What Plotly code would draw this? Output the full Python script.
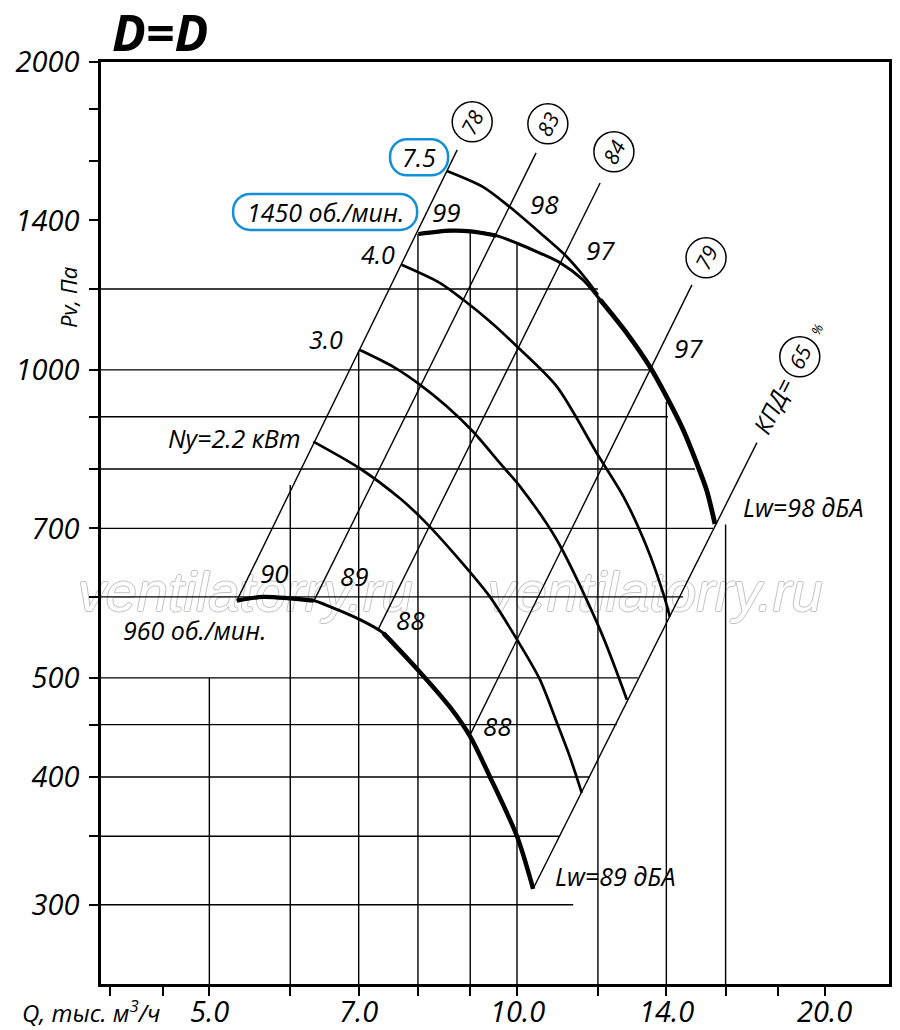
import numpy as np
import plotly.graph_objects as go

# fan curve at 960 rpm (Q in thousand m3/h, Pv in Pa)
q960 = [5.32, 5.64, 5.99, 6.32, 6.56, 7.02, 7.40, 8.00, 8.60, 9.00, 9.41, 10.0, 10.37]
p960 = [595, 600, 598, 595, 587, 570, 553, 509, 468, 438, 400, 350, 311]

# fan curve at 1450 rpm
q1450 = [8.01, 8.60, 9.01, 9.55, 10.0, 10.53, 11.02, 11.60, 12.06, 12.80, 13.49, 14.01, 14.54, 14.99, 15.33, 15.62]
p1450 = [1358, 1368, 1366, 1353, 1330, 1301, 1273, 1225, 1171, 1087, 1007, 941, 874, 811, 763, 707]

# motor power curves
q75 = [8.54, 9.26, 9.84, 10.53, 11.18, 11.70, 12.0]
p75 = [1565, 1510, 1443, 1362, 1291, 1225, 1184]
q40 = [7.71, 8.41, 8.86, 9.41, 10.0, 10.94, 11.97, 12.71, 13.39, 13.90, 14.11]
p40 = [1267, 1216, 1171, 1115, 1054, 963, 829, 752, 672, 605, 574]
q30 = [7.02, 7.57, 8.04, 8.54, 9.06, 9.62, 10.07, 10.94, 12.06, 12.81]
p30 = [1046, 1007, 967, 921, 870, 811, 769, 682, 557, 476]
q22 = [6.32, 7.02, 7.68, 8.09, 8.73, 9.41, 10.0, 10.53, 10.94, 11.27, 11.57]
p22 = [851, 801, 749, 714, 657, 600, 545, 498, 452, 418, 386]

# efficiency rays (start / end points)
eff_q0 = [5.32, 6.33, 7.31, 8.98, 10.37]
eff_p0 = [595, 595, 557, 438, 311]
eff_q1 = [8.74, 10.44, 12.06, 14.83, 17.17]
eff_p1 = [1641, 1630, 1523, 1211, 849]

# circled efficiency values
circ_txt = ["78", "83", "84", "79", "65"]
circ_q = [9.04, 10.72, 12.44, 15.31, 18.91]
circ_p = [1748, 1740, 1634, 1287, 1030]

# noise numbers along rays
lw_txt = ["90", "89", "88", "88", "99", "98", "97", "97"]
lw_q = [5.79, 6.94, 7.86, 9.56, 8.54, 10.63, 12.08, 14.70]
lw_p = [633, 629, 570, 449, 1427, 1453, 1310, 1051]

# other labels
lab_txt = ["4.0", "3.0", "Ny=2.2 кВт", "960 об./мин.", "Lw=98 дБА", "Lw=89 дБА"]
lab_q = [7.31, 6.50, 5.29, 4.83, 19.05, 12.48]
lab_p = [1298, 1072, 858, 557, 735, 320]

box_txt = ["7.5", "1450 об./мин."]
box_q = [8.02, 6.49]
box_p = [1614, 1427]
box_w = [58, 184]

# partial grid
hgrid_p = [1200, 1000, 900, 800, 700, 600, 500, 450, 400, 350, 300]
hgrid_end = [12.0, 13.49, 14.05, 14.93, 15.55, 14.54, 13.13, 12.52, 11.79, 11.02, 11.35]
vgrid_q = [5, 6, 7, 8, 9, 10, 12, 14]
vgrid_end = [500, 772, 1046, 1358, 1365, 1325, 1178, 931]

xticks = [4, 4.5, 5, 6, 7, 8, 9, 10, 12, 14, 16, 18, 20]
xlabel_q = [5, 7, 10, 14, 20]
xlabel_txt = ["5.0", "7.0", "10.0", "14.0", "20.0"]
yticks = [300, 350, 400, 450, 500, 600, 700, 800, 900, 1000, 1200, 1400, 1600, 1800, 2000]
ytext = ["300", "", "400", "", "500", "", "700", "", "", "1000", "", "1400", "", "", "2000"]

xr = [np.log10(3.917), np.log10(23.12)]
yr = [np.log10(251), np.log10(2000)]
qmin, pmin = 10 ** xr[0], 10 ** yr[0]

FONT = "Open Sans"
BLUE = "#1590d8"
GRAY = "#c2c2c2"

fig = go.Figure()

# watermark under everything
fig.add_trace(go.Scatter(
    x=[5.42, 13.65], y=[600, 600], mode="text", hoverinfo="skip", cliponaxis=False,
    text=["ventilatorry.ru", "ventilatorry.ru"],
    textfont=dict(family="Liberation Sans", size=56, color="white", style="italic",
                  shadow=f"1px 0 {GRAY}, -1px 0 {GRAY}, 0 1px {GRAY}, 0 -1px {GRAY}")))


def line(x, y, w, spline=False):
    fig.add_trace(go.Scatter(x=x, y=y, mode="lines", hoverinfo="skip",
                             line=dict(color="black", width=w,
                                       shape="spline" if spline else "linear",
                                       smoothing=0.8)))


# grid
for p, e in zip(hgrid_p, hgrid_end):
    line([qmin, e], [p, p], 1.4)
for q, e in zip(vgrid_q, vgrid_end):
    line([q, q], [pmin, e], 1.4)
line([16, 16], [706, pmin], 1.4)

# rays
for a, b, c, d in zip(eff_q0, eff_p0, eff_q1, eff_p1):
    line([a, c], [b, d], 1.4)

# power curves
for qq, pp in [(q22, p22), (q30, p30), (q40, p40), (q75, p75)]:
    line(qq, pp, 2.7, True)

# speed curves
line(q960, p960, 3.0, True)
line(q960[:4], p960[:4], 4.2, True)
line(q960[6:], p960[6:], 4.5, True)
line(q1450, p1450, 3.0, True)
line(q1450[:4], p1450[:4], 4.2, True)
line(q1450[8:], p1450[8:], 4.8, True)

# circles
fig.add_trace(go.Scatter(x=circ_q, y=circ_p, mode="markers", hoverinfo="skip",
                         marker=dict(symbol="circle-open", size=40, color="black",
                                     line=dict(width=1.5))))

ann = []


def text(t, q, p, size=25, angle=0, **kw):
    ann.append(dict(x=np.log10(q), y=np.log10(p), xref="x", yref="y", text=t,
                    showarrow=False, textangle=angle,
                    font=dict(family=FONT, size=size, color="black", style="italic"), **kw))


for t, q, p in zip(circ_txt, circ_q, circ_p):
    text(t, q, p, 21, -63)
text("КПД=", 17.80, 924, 24, -63)
text("%", 19.64, 1094, 13, -63)
for t, q, p in zip(lw_txt, lw_q, lw_p):
    text(t, q, p, 26)
for t, q, p in zip(lab_txt, lab_q, lab_p):
    text(t, q, p, 25)
for t, q, p in zip(box_txt, box_q, box_p):
    text(t, q, p, 25)

# x tick labels placed by hand so they sit close under the axis
for t, q in zip(xlabel_txt, xlabel_q):
    ann.append(dict(x=np.log10(q), y=-0.029, xref="x", yref="paper", text=t,
                    showarrow=False, xanchor="center", yanchor="middle",
                    font=dict(family=FONT, size=29, color="black", style="italic")))

ann.append(dict(x=0.075, y=1.033, xref="paper", yref="paper", xanchor="center",
                yanchor="middle", text="<b>D=D</b>", showarrow=False,
                font=dict(family=FONT, size=50, color="black", style="italic", weight=800)))
ann.append(dict(x=-0.042, y=0.745, xref="paper", yref="paper", xanchor="center",
                yanchor="middle", text="Pv, Па", showarrow=False, textangle=-90,
                font=dict(family=FONT, size=22, color="black", style="italic")))
ann.append(dict(x=-0.103, y=-0.030, xref="paper", yref="paper", xanchor="left",
                yanchor="middle", text="Q, тыс. м<sup>3</sup>/ч", showarrow=False,
                font=dict(family=FONT, size=24, color="black", style="italic")))


def pill(w, h, r):
    k = 0.5523 * r
    a, b = w / 2, h / 2
    return (f"M {-a + r},{-b} L {a - r},{-b} C {a - r + k},{-b} {a},{-b + r - k} {a},{-b + r} "
            f"L {a},{b - r} C {a},{b - r + k} {a - r + k},{b} {a - r},{b} "
            f"L {-a + r},{b} C {-a + r - k},{b} {-a},{b - r + k} {-a},{b - r} "
            f"L {-a},{-b + r} C {-a},{-b + r - k} {-a + r - k},{-b} {-a + r},{-b} Z")


shapes = []
for q, p, w in zip(box_q, box_p, box_w):
    shapes.append(dict(type="path", xref="x", yref="y", xsizemode="pixel", ysizemode="pixel",
                       xanchor=q, yanchor=p, path=pill(w, 36, 17),
                       line=dict(color=BLUE, width=2.5)))

axis_common = dict(type="log", ticks="outside", ticklen=9, tickwidth=1.6, tickcolor="black",
                   showgrid=False, zeroline=False, automargin=False,
                   showline=True, linewidth=2.6, linecolor="black", mirror=True,
                   tickfont=dict(family=FONT, size=29, color="black", style="italic"))

# page body keeps an 8px margin, so the figure is 8px smaller than the window
fig.update_layout(
    width=892, height=1022, margin=dict(l=93, r=11, t=54, b=46),
    plot_bgcolor="white", paper_bgcolor="white", showlegend=False,
    annotations=ann, shapes=shapes,
    xaxis=dict(range=xr, tickvals=xticks, showticklabels=False, **axis_common),
    yaxis=dict(range=yr, tickvals=yticks, ticktext=ytext, ticklabelstandoff=4, **axis_common),
)

fig.write_html("out.html")
